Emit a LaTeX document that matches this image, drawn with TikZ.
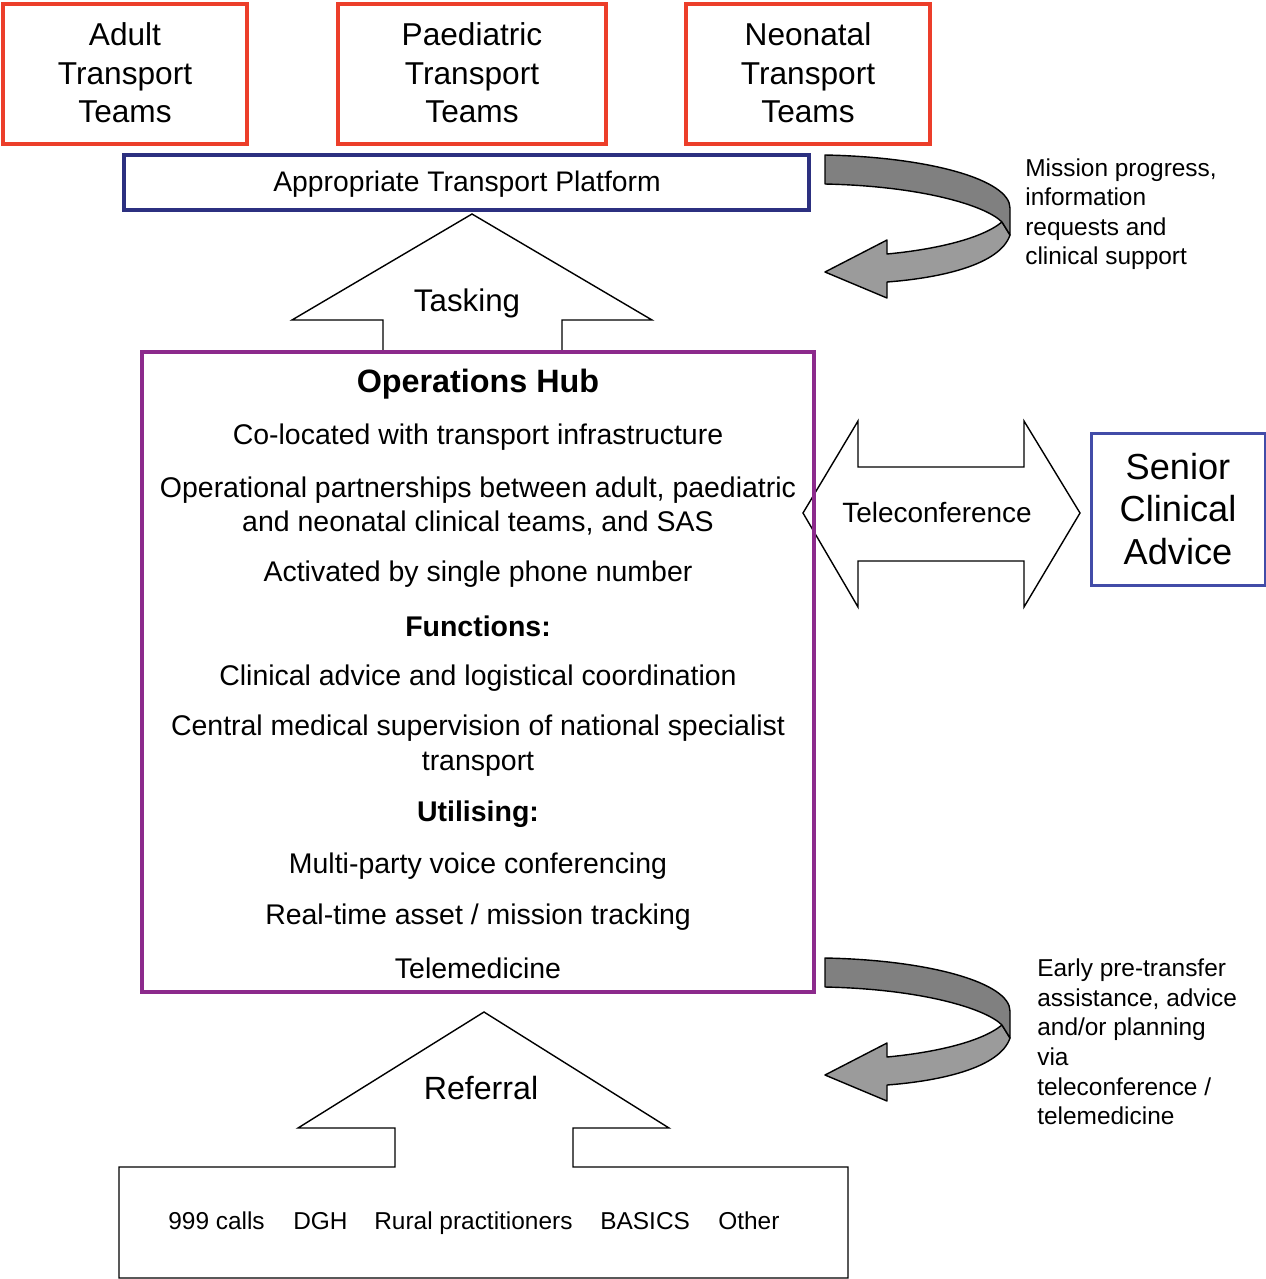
\documentclass[tikz,border=0pt]{standalone}
\usepackage{fontspec}
\setmainfont{Liberation Sans}
\usepackage{xcolor}
\usepackage{tikz}

\definecolor{teamred}{RGB}{236,62,42}
\definecolor{platnavy}{RGB}{44,48,128}
\definecolor{hubpurple}{RGB}{140,42,140}
\definecolor{adviceblue}{RGB}{66,76,168}
\definecolor{ribbondark}{RGB}{128,128,128}
\definecolor{ribbonlight}{RGB}{155,155,155}

\newcommand{\fsz}[2]{\fontsize{#1}{#2}\selectfont}

\begin{document}
\begin{tikzpicture}[x=0.02cm,y=-0.02cm,
    teambox/.style={draw=teamred,line width=2.8pt},
    teamtext/.style={align=center,font=\fsz{18}{22}},
    blockarrow/.style={draw=black,fill=white,line width=0.8pt,line join=miter},
    ribbon/.style={draw=black,line width=0.8pt,line join=round},
    hubtext/.style={align=center,font=\fsz{16.2}{19.8}},
    sidetext/.style={align=left,anchor=west,inner sep=0pt,font=\fsz{13.9}{16.8}},
    sourcetext/.style={anchor=base west,inner sep=0pt,font=\fsz{13.9}{16}}]
    \useasboundingbox (0,0) rectangle (1266,1279);

    % transport teams
    \draw[teambox] (3,4) rectangle (247,144);
    \draw[teambox] (338,4) rectangle (606,144);
    \draw[teambox] (686,4) rectangle (930,144);
    \node[teamtext] (adult) at (125,73) {Adult\\Transport\\Teams};
    \node[teamtext] (paed) at (472,73) {Paediatric\\Transport\\Teams};
    \node[teamtext] (neo) at (808,73) {Neonatal\\Transport\\Teams};

    \draw[draw=platnavy,line width=2.2pt] (124,155) rectangle (809,210);
    \node[font=\fsz{16.1}{19}] (platform) at (467,184) {Appropriate Transport Platform};

    % tasking / teleconference arrows
    \draw[blockarrow] (383,352) -- (383,320) -- (292,320) -- (472,214) -- (652,320) -- (562,320) -- (562,352);
    \node[font=\fsz{17.8}{21}] (tasking) at (467,303) {Tasking};

    \draw[blockarrow] (803,513) -- (858,421) -- (858,467) -- (1024,467) -- (1024,421) -- (1080,513)
        -- (1024,607) -- (1024,561) -- (858,561) -- (858,607) -- cycle;
    \node[font=\fsz{15.9}{19}] (telecon) at (937,513) {Teleconference};

    \draw[draw=adviceblue,line width=1.7pt] (1091,433) rectangle (1265,585);
    \node[align=center,font=\fsz{20.6}{24.4}] (senior) at (1178,509) {Senior\\Clinical\\Advice};

    % hub
    \draw[draw=hubpurple,line width=2pt] (142,352) rectangle (814,992);
    \node[font=\bfseries\fsz{18.4}{22}] (hubtitle) at (478,384) {Operations Hub};
    \node[hubtext] (colocated) at (478,437) {Co-located with transport infrastructure};
    \node[hubtext] (partners) at (478,506) {Operational partnerships between adult, paediatric\\and neonatal clinical teams, and SAS};
    \node[hubtext] (activated) at (478,574) {Activated by single phone number};
    \node[hubtext,font=\bfseries\fsz{16.2}{19.8}] (functions) at (478,626) {Functions:};
    \node[hubtext] (coord) at (478,678) {Clinical advice and logistical coordination};
    \node[hubtext] (supervision) at (478,746) {Central medical supervision of national specialist\\transport};
    \node[hubtext,font=\bfseries\fsz{16.2}{19.8}] (utilising) at (478,814) {Utilising:};
    \node[hubtext] (voice) at (478,866) {Multi-party voice conferencing};
    \node[hubtext] (tracking) at (478,917) {Real-time asset / mission tracking};
    \node[hubtext] (telemed) at (478,968) {Telemedicine};

    % curved feedback arrows
    \foreach \dy in {0,803} {
        \begin{scope}[shift={(0,\dy)}]
            \filldraw[ribbon,fill=ribbonlight] (1002,222) .. controls (980,240) and (930,250) .. (887,254)
                -- (887,240) -- (825,272) -- (887,298) -- (887,282)
                .. controls (940,278) and (1000,265) .. (1010,235) -- cycle;
            \filldraw[ribbon,fill=ribbondark] (825,155) .. controls (930,157) and (1010,180) .. (1010,208)
                -- (1010,235) -- (1002,222) .. controls (985,205) and (920,186) .. (825,184) -- cycle;
        \end{scope}
    }
    \node[sidetext] (progress) at (1025,214) {Mission progress,\\information\\requests and\\clinical support};
    \node[sidetext] (early) at (1037,1042) {Early pre-transfer\\assistance, advice\\and/or planning\\via\\teleconference /\\telemedicine};

    % referral and sources
    \draw[blockarrow] (119,1167) -- (395,1167) -- (395,1128) -- (298,1128) -- (484,1012) -- (669,1128)
        -- (573,1128) -- (573,1167) -- (848,1167) -- (848,1278) -- (119,1278) -- cycle;
    \node[font=\fsz{18.3}{22}] (referral) at (481,1088) {Referral};

    \node[sourcetext] (calls) at (168,1229) {999 calls};
    \node[sourcetext] (dgh) at (293,1229) {DGH};
    \node[sourcetext] (rural) at (374,1229) {Rural practitioners};
    \node[sourcetext] (basics) at (600,1229) {BASICS};
    \node[sourcetext] (other) at (718,1229) {Other};

\end{tikzpicture}
\end{document}
